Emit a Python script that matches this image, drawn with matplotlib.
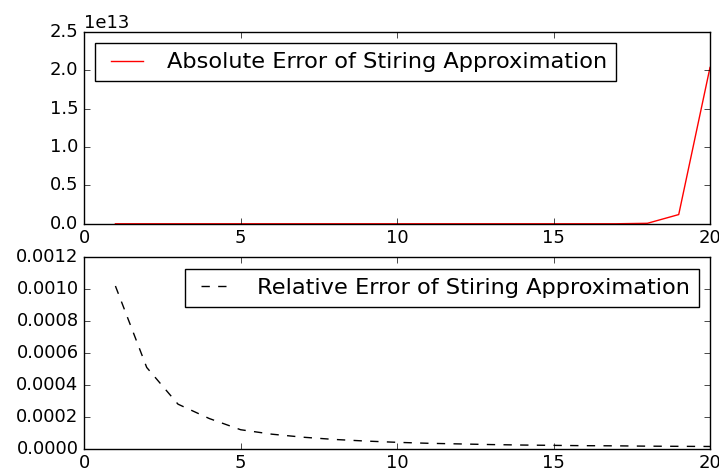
import matplotlib
matplotlib.use("Agg")
import matplotlib.pyplot as plt

# n values and the error of Stirling's formula at each n
n = list(range(1, 21))
abs_err = [0, 0, 0, 0, 0, 0, 0, 0, 0, 0,
           0, 0, 0, 0, 0, 0, 0, 6e10, 1.2e12, 2.04e13]
rel_err = [0.00102, 0.00051, 0.00028, 0.00019, 0.00012, 0.000092, 0.000073,
           0.000059, 0.000049, 0.000041, 0.000035, 0.000031, 0.000027,
           0.000024, 0.000022, 0.000020, 0.000019, 0.000017, 0.000016,
           0.000015]

plt.style.use('classic')
plt.rcParams['font.size'] = 13

fig = plt.figure(figsize=(7.19, 4.73), dpi=100)
fig.subplots_adjust(left=0.117, right=0.9875, top=0.932, bottom=0.051,
                    hspace=0.175)

ax1 = fig.add_subplot(2, 1, 1)
ax1.plot(n, abs_err, 'r-', label='Absolute Error of Stiring Approximation')
ax1.legend(loc='upper left', fontsize=16.2)

ax2 = fig.add_subplot(2, 1, 2)
ax2.plot(n, rel_err, 'k--', label='Relative Error of Stiring Approximation')
ax2.legend(loc='upper right', fontsize=16.2)

fig.savefig('out.png', dpi=100)
